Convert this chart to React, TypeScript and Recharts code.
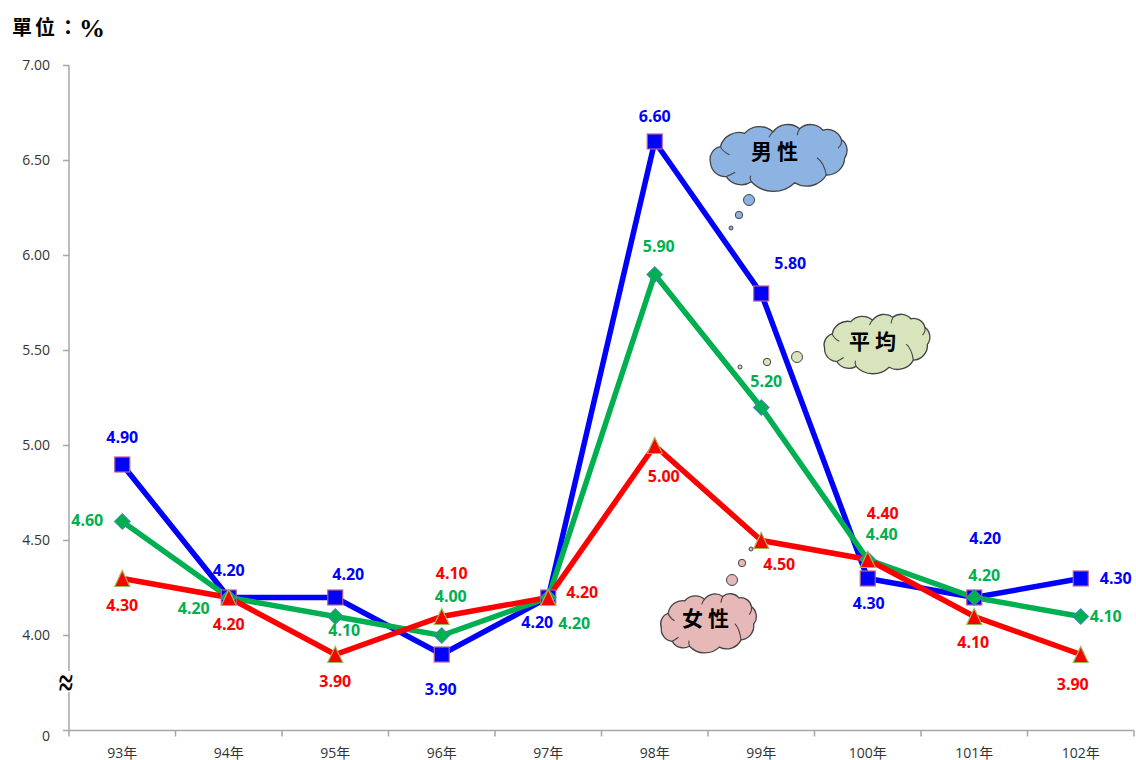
import React from 'react'
import { LineChart, Line, XAxis, YAxis, LabelList } from 'recharts'

const years = ['93年', '94年', '95年', '96年', '97年', '98年', '99年', '100年', '101年', '102年']
const male = [4.9, 4.2, 4.2, 3.9, 4.2, 6.6, 5.8, 4.3, 4.2, 4.3]
const average = [4.6, 4.2, 4.1, 4.0, 4.2, 5.9, 5.2, 4.4, 4.2, 4.1]
const female = [4.3, 4.2, 3.9, 4.1, 4.2, 5.0, 4.5, 4.4, 4.1, 3.9]
const yTicks = [3.5, 4, 4.5, 5, 5.5, 6, 6.5, 7]

const data = years.map((name, i) => ({ name, male: male[i], average: average[i], female: female[i] }))

// hand placed label offsets, the original moves each one around by hand
const maleOffsets = [[0, -27], [0, -27], [13, -23], [-1, 35], [-11, 25], [0, -25], [29, -30], [1, 25], [11, -59], [35, 0]]
const averageOffsets = [[-35, -1], [-35, 11], [9, 14], [9, -39], [26, 26], [4, -28], [5, -26], [14, -25], [10, -22], [25, 0]]
const femaleOffsets = [[0, 27], [0, 27], [0, 27], [10, -43], [34, -5], [9, 31], [18, 24], [15, -46], [-1, 26], [-8, 30]]

const BLUE = '#0000ff'
const GREEN = '#00b050'
const RED = '#ff0000'
const AXIS = '#a6a6a6'
const LABEL_FONT = '"Open Sans", sans-serif'
const TICK_FONT = '"Open Sans", "Noto Sans CJK TC", sans-serif'
const CJK_FONT = '"Noto Sans CJK TC", serif'

const YTick = ({ x, y, payload }: any) => {
  const isZero = payload.value === yTicks[0]
  return (
    <text x={x - 13} y={y + (isZero ? 5 : -1)} textAnchor="end" dominantBaseline="central" fontSize={14} fontFamily={TICK_FONT} fill="#333">
      {isZero ? '0' : payload.value.toFixed(2)}
    </text>
  )
}

const XTick = ({ x, y, payload, index }: any) => {
  const half = payload.offset || 53.25
  const top = y - 8
  return (
    <g>
      <line x1={x - half} x2={x - half} y1={top} y2={top + 6} stroke={AXIS} strokeWidth={1.5} />
      {index === years.length - 1 && <line x1={x + half} x2={x + half} y1={top} y2={top + 6} stroke={AXIS} strokeWidth={1.5} />}
      <text x={x} y={752} textAnchor="middle" dominantBaseline="central" fontSize={14} fontFamily={TICK_FONT} fill="#333">
        {payload.value}
      </text>
    </g>
  )
}

const squareDot = ({ cx, cy, index }: any) => (
  <rect key={index} x={cx - 7.5} y={cy - 7.5} width={15} height={15} fill={BLUE} stroke="#b8608c" strokeWidth={1.2} />
)
const diamondDot = ({ cx, cy, index }: any) => (
  <path key={index} d={`M${cx} ${cy - 8}L${cx + 8} ${cy}L${cx} ${cy + 8}L${cx - 8} ${cy}Z`} fill={GREEN} stroke="#4f81bd" strokeWidth={1} />
)
const triangleDot = ({ cx, cy, index }: any) => (
  <path key={index} d={`M${cx} ${cy - 8}L${cx + 7.5} ${cy + 8}L${cx - 7.5} ${cy + 8}Z`} fill={RED} stroke="#9bbb59" strokeWidth={1.2} />
)

const valueLabel = (offsets: number[][], color: string) => (props: any) => {
  const off = offsets[props.index]
  return (
    <text
      x={props.x + off[0]}
      y={props.y + off[1] - 1}
      textAnchor="middle"
      dominantBaseline="central"
      fontSize={16}
      fontWeight={700}
      fontFamily={LABEL_FONT}
      fill={color}
    >
      {props.value.toFixed(2)}
    </text>
  )
}

// rim of the callout cloud, as fractions of its box
const rim = [
  [0.095, 0.337], [0.024, 0.592], [0.137, 0.832], [0.315, 0.918], [0.622, 0.934], [0.846, 0.806],
  [0.976, 0.526], [0.953, 0.22], [0.823, 0.066], [0.657, 0.04], [0.468, 0.092], [0.267, 0.117],
]
const curls = [
  [0.095, 0.337, 0.11, 0.42, 0.16, 0.47],
  [0.137, 0.832, 0.17, 0.8, 0.2, 0.76],
  [0.315, 0.918, 0.3, 0.86, 0.31, 0.82],
  [0.846, 0.806, 0.83, 0.6, 0.78, 0.52],
  [0.953, 0.22, 0.96, 0.3, 0.93, 0.36],
  [0.657, 0.04, 0.64, 0.1, 0.64, 0.15],
  [0.468, 0.092, 0.45, 0.13, 0.44, 0.18],
]

const Cloud = ({ x, y, w, h, fill, label, bubbles }: any) => {
  const sx = (f: number) => x + w / 2 + (f - 0.5) * w * 1.0
  const sy = (f: number) => y + h / 2 + (f - 0.5) * h * 0.93
  const pts = rim.map(([px, py]) => [sx(px), sy(py)])
  let d = `M${pts[0][0]} ${pts[0][1]}`
  pts.forEach((p, i) => {
    const n = pts[(i + 1) % pts.length]
    const r = Math.hypot(n[0] - p[0], n[1] - p[1]) * 0.7
    d += ` A${r} ${r} 0 0 0 ${n[0]} ${n[1]}`
  })
  return (
    <g>
      <path d={d + ' Z'} fill={fill} stroke="#444" strokeWidth={1.3} />
      {curls.map((c, i) => (
        <path key={i} d={`M${sx(c[0])} ${sy(c[1])} Q${sx(c[2])} ${sy(c[3])} ${sx(c[4])} ${sy(c[5])}`} fill="none" stroke="#444" strokeWidth={1.1} />
      ))}
      {bubbles.map((b: number[], i: number) => (
        <circle key={i} cx={b[0]} cy={b[1]} r={b[2]} fill={fill} stroke="#444" strokeWidth={1} />
      ))}
      <text
        x={label[0]}
        y={label[1]}
        textAnchor="middle"
        dominantBaseline="central"
        fontSize={21}
        fontWeight={700}
        letterSpacing={5}
        fontFamily={CJK_FONT}
        fill="#000"
      >
        {label[2]}
      </text>
    </g>
  )
}

export default function App() {
  return (
    <div style={{ position: 'absolute', left: 0, top: 0, width: 1136, height: 760, background: '#fff' }}>
      <LineChart width={1136} height={760} data={data} margin={{ top: 65.5, right: 2, left: 0, bottom: 0 }}>
        <XAxis
          dataKey="name"
          scale="band"
          height={29.5}
          interval={0}
          tickLine={false}
          stroke={AXIS}
          strokeWidth={1.5}
          tick={<XTick />}
        />
        <YAxis
          type="number"
          width={69}
          domain={[3.5, 7]}
          ticks={yTicks}
          interval={0}
          tickSize={6}
          tickMargin={0}
          stroke={AXIS}
          strokeWidth={1.5}
          tick={<YTick />}
        />
        <Line dataKey="male" stroke={BLUE} strokeWidth={5.5} isAnimationActive={false} dot={squareDot}>
          <LabelList dataKey="male" content={valueLabel(maleOffsets, BLUE)} />
        </Line>
        <Line dataKey="average" stroke={GREEN} strokeWidth={5.5} isAnimationActive={false} dot={diamondDot}>
          <LabelList dataKey="average" content={valueLabel(averageOffsets, GREEN)} />
        </Line>
        <Line dataKey="female" stroke={RED} strokeWidth={5.5} isAnimationActive={false} dot={triangleDot}>
          <LabelList dataKey="female" content={valueLabel(femaleOffsets, RED)} />
        </Line>
      </LineChart>
      <svg width={1136} height={760} style={{ position: 'absolute', left: 0, top: 0, pointerEvents: 'none' }}>
        <text x={12} y={35} fontSize={20} fontWeight={700} letterSpacing={3} fontFamily={CJK_FONT} fill="#000">
          單位：
        </text>
        <text x={79} y={37} fontSize={26} fontWeight={700} fontFamily='"Liberation Serif", serif' fill="#000">
          %
        </text>
        <rect x={62} y={671} width={13} height={21} fill="#fff" />
        <text transform="translate(66 682) scale(1 1.5)" textAnchor="middle" dominantBaseline="central" fontSize={26} fontFamily='"Liberation Serif", serif' fontWeight={700} fill="#000">
          ≈
        </text>
        <Cloud x={707} y={124} w={141} h={65} fill="#8db3e2" label={[777, 150, '男性']} bubbles={[[749, 200, 5.5], [739, 215, 3.7], [731, 228, 2]]} />
        <Cloud x={822} y={313} w={108} h={60} fill="#d8e4bc" label={[875, 340, '平均']} bubbles={[[797, 357, 5.5], [767, 362, 3.7], [740, 367, 2]]} />
        <Cloud x={659} y={592} w={97} h={61} fill="#e6b8b7" label={[708, 617, '女性']} bubbles={[[732, 580, 5.5], [742, 563, 3.7], [751, 549, 2]]} />
      </svg>
    </div>
  )
}
